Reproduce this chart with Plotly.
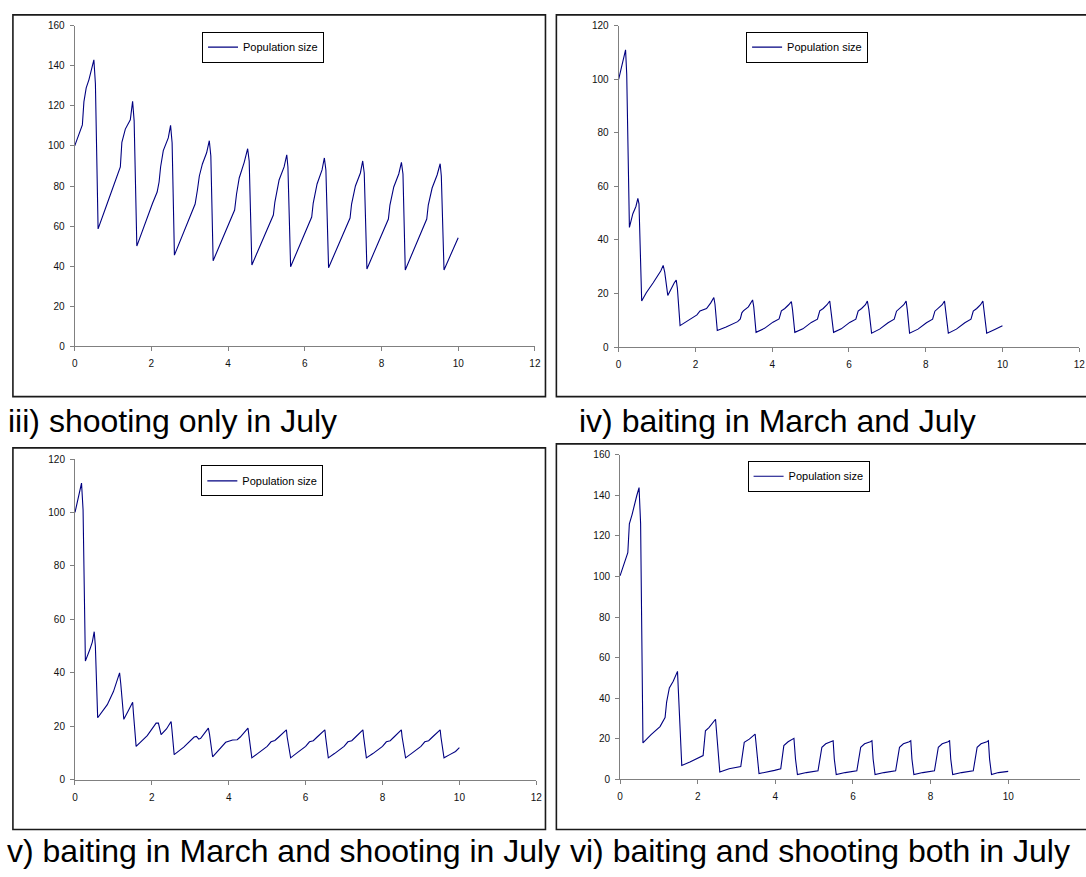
import plotly.graph_objects as go

W, H = 1086, 877

# ---------------- data ----------------
x_iii = [0, 0.08, 0.17, 0.2, 0.24, 0.3, 0.37, 0.44, 0.5, 0.54, 0.61,
         0.85, 1.19, 1.23, 1.32, 1.45, 1.51, 1.55, 1.62,
         2.03, 2.15, 2.2, 2.24, 2.31, 2.44, 2.5, 2.54, 2.6,
         3.14, 3.2, 3.25, 3.33, 3.44, 3.51, 3.55, 3.61,
         4.17, 4.22, 4.29, 4.42, 4.51, 4.55, 4.62,
         5.18, 5.22, 5.33, 5.46, 5.53, 5.56, 5.63,
         6.18, 6.22, 6.32, 6.45, 6.51, 6.55, 6.62,
         7.18, 7.22, 7.32, 7.45, 7.51, 7.55, 7.62,
         8.18, 8.22, 8.32, 8.45, 8.52, 8.56, 8.62,
         9.18, 9.22, 9.32, 9.45, 9.53, 9.56, 9.63,
         10.0]
y_iii = [100, 104, 109, 110.5, 122, 129, 133, 139, 143, 131, 58.6,
         71.4, 89.5, 101.8, 108.4, 113, 122.3, 112.5, 50,
         71.4, 77, 82, 89.5, 97.7, 104, 110.3, 101.6, 45.5,
         71, 78, 85, 91, 96.6, 102.6, 95, 42.7,
         68, 76, 84, 91.8, 98.6, 92.4, 40.6,
         65.5, 72, 83, 89.5, 95.6, 89.5, 39.7,
         64.5, 71.5, 81, 88, 94, 88, 39.2,
         64, 71, 80, 86.5, 92.5, 86.5, 38.6,
         63.5, 70.5, 79.5, 86, 91.8, 86, 38.1,
         63.5, 70.5, 79, 85.5, 91.1, 85, 38.1,
         54.2]

x_iv = [0, 0.08, 0.18, 0.21, 0.28, 0.37, 0.45, 0.5, 0.53, 0.6,
        0.72, 0.9, 1.1, 1.16, 1.2, 1.28, 1.35, 1.45, 1.5, 1.53, 1.6,
        2.04, 2.12, 2.22, 2.29, 2.4, 2.48, 2.51, 2.57,
        2.8, 3.1, 3.17, 3.21, 3.25, 3.38, 3.49, 3.52, 3.58,
        3.8, 4.02, 4.18, 4.24, 4.33, 4.43, 4.5, 4.53, 4.59,
        4.8, 5.02, 5.18, 5.24, 5.33, 5.43, 5.5, 5.53, 5.6,
        5.8, 6.02, 6.18, 6.24, 6.33, 6.43, 6.48, 6.52, 6.59,
        6.8, 7.02, 7.18, 7.24, 7.33, 7.43, 7.49, 7.52, 7.58,
        7.8, 8.02, 8.18, 8.24, 8.33, 8.43, 8.49, 8.52, 8.59,
        8.8, 9.02, 9.18, 9.24, 9.33, 9.43, 9.49, 9.52, 9.59,
        9.8, 10.0]
y_iv = [100, 105, 111, 102, 44.7, 49.8, 52.5, 55.5, 53.5, 17.2,
        20.3, 24, 28.5, 30.5, 28, 19.3, 21.5, 24, 25, 22, 8,
        12, 13.5, 14.2, 14.4, 16.5, 18.5, 16, 6.2,
        7.5, 9.5, 10.5, 12.8, 13.5, 15, 17.6, 15, 5.5,
        7, 9.3, 10.5, 13.5, 14.4, 15.8, 17.0, 14, 5.5,
        6.8, 9.2, 10.4, 13.5, 14.4, 15.8, 17.2, 14, 5.5,
        6.8, 9.2, 10.4, 13.4, 14.4, 15.8, 17.2, 14, 5.2,
        6.7, 9.1, 10.4, 13.4, 14.4, 15.8, 17.2, 14, 5.2,
        6.7, 9.1, 10.4, 13.4, 14.4, 15.8, 17.2, 14, 5.2,
        6.7, 9.1, 10.4, 13.4, 14.4, 15.8, 17.2, 14, 5.2,
        6.6, 8.0]

x_v = [0, 0.08, 0.17, 0.21, 0.27, 0.39, 0.45, 0.5, 0.53, 0.59,
       0.84, 1.0, 1.16, 1.19, 1.27, 1.38, 1.5, 1.52, 1.59,
       1.88, 2.11, 2.17, 2.24, 2.38, 2.5, 2.52, 2.58,
       2.83, 3.1, 3.16, 3.22, 3.27, 3.47, 3.5, 3.58,
       3.92, 4.1, 4.22, 4.3, 4.5, 4.52, 4.6,
       4.75, 5.0, 5.1, 5.2, 5.3, 5.5, 5.52, 5.61,
       5.75, 6.0, 6.1, 6.2, 6.3, 6.5, 6.52, 6.59,
       6.75, 7.0, 7.1, 7.2, 7.3, 7.49, 7.51, 7.58,
       7.75, 8.0, 8.1, 8.2, 8.3, 8.49, 8.51, 8.6,
       8.75, 9.0, 9.1, 9.2, 9.3, 9.5, 9.52, 9.6,
       9.75, 9.9, 10.0]
y_v = [100, 105, 111, 101, 44.4, 48.9, 51.5, 55.4, 50, 23.2,
       28.1, 33, 40, 36, 22.6, 25.6, 29, 25, 12.5,
       16.5, 21.2, 21.2, 16.9, 19, 21.8, 19, 9.4,
       12.2, 16, 16.2, 15.2, 15.5, 19.3, 17, 8.6,
       14, 14.9, 15, 16, 19.3, 17, 8.2,
       9.8, 12.5, 14.2, 14.7, 16, 18.7, 16, 8.2,
       9.8, 12.5, 14.2, 14.6, 16, 18.7, 16, 8.2,
       9.8, 12.5, 14.2, 14.6, 16, 18.7, 16, 8.2,
       9.8, 12.5, 14.2, 14.6, 16, 18.7, 16, 8.2,
       9.8, 12.5, 14.2, 14.6, 16, 18.7, 16, 8.2,
       9.4, 10.6, 12.0]

x_vi = [0, 0.1, 0.2, 0.24, 0.31, 0.43, 0.49, 0.53, 0.59,
        0.8, 1.03, 1.16, 1.2, 1.27, 1.37, 1.48, 1.53, 1.59,
        1.8, 1.98, 2.14, 2.2, 2.29, 2.46, 2.5, 2.57,
        2.81, 3.11, 3.2, 3.33, 3.48, 3.53, 3.58,
        3.98, 4.14, 4.22, 4.33, 4.48, 4.52, 4.57,
        4.8, 5.1, 5.2, 5.3, 5.45, 5.49, 5.52, 5.57,
        5.8, 6.1, 6.2, 6.3, 6.45, 6.49, 6.52, 6.57,
        6.8, 7.1, 7.2, 7.3, 7.45, 7.49, 7.52, 7.57,
        7.8, 8.1, 8.2, 8.3, 8.45, 8.49, 8.52, 8.57,
        8.8, 9.1, 9.2, 9.3, 9.45, 9.49, 9.52, 9.57,
        9.75, 10.0]
y_vi = [100.3, 106, 111.7, 126, 130.5, 139.8, 143.8, 126, 17.9,
        22, 26, 30.4, 38, 45, 48.3, 53.2, 34.5, 6.8,
        8.5, 10.1, 11.7, 23.9, 25.5, 29.6, 18.5, 3.6,
        5.2, 6.3, 18.2, 19.8, 22.3, 13.3, 2.8,
        4.4, 5.2, 16.6, 18.5, 20.2, 10, 2.3,
        3.3, 4.2, 15.8, 17.5, 18.5, 19, 10, 2.3,
        3.3, 4.2, 15.8, 17.5, 18.5, 19, 10, 2.3,
        3.3, 4.2, 15.8, 17.5, 18.5, 19, 10, 2.3,
        3.3, 4.2, 15.8, 17.5, 18.5, 19, 10, 2.3,
        3.3, 4.2, 15.8, 17.5, 18.5, 19, 10, 2.3,
        3.3, 3.9]

captions = ["iii) shooting only in July", "iv) baiting in March and July",
            "v) baiting in March and shooting in July",
            "vi) baiting and shooting both in July"]
series_name = "Population size"
y_max = [160, 120, 120, 160]

# ---------------- layout helpers (pixel -> paper) ----------------
def px(x):
    return x / W

def py(y):
    return 1 - y / H

FONT = "Liberation Sans, Arial, Helvetica, sans-serif"
LINE = "#000080"

# pixel geometry of each panel: (x0px, x12px or scale, y0px, ytop px)
panels = [
    dict(xl=72.3, unit=38.67, yb=345.0, yt=20.0),
    dict(xl=620.8, unit=38.7, yb=345.8, yt=20.0),
    dict(xl=72.6, unit=38.76, yb=784.5, yt=459.3),
    dict(xl=622.2, unit=39.14, yb=784.0, yt=455.0),
]
legend_pos = [(200.7, 26.0), (749.3, 26.0), (200.0, 465.7), (750.8, 461.0)]
frames = [(10, 9, 547, 396), (558, 9, 1100, 396), (10, 448, 547, 835), (558, 444, 1100, 835)]
caption_pos = [(3, 421), (579, 421), (2, 857), (570, 857)]

xs = [x_iii, x_iv, x_v, x_vi]
ys = [y_iii, y_iv, y_v, y_vi]

fig = go.Figure()
layout = dict(width=W, height=H, margin=dict(l=0, r=0, t=0, b=0),
              paper_bgcolor="white", plot_bgcolor="white",
              font=dict(family=FONT, color="black"), shapes=[], annotations=[])

for i in range(4):
    p = panels[i]
    sfx = "" if i == 0 else str(i + 1)
    x_right_px = min(p["xl"] + 12 * p["unit"], W)
    xmax = (x_right_px - p["xl"]) / p["unit"]
    lg = "legend" if i == 0 else "legend" + str(i + 1)
    fig.add_trace(go.Scatter(x=xs[i], y=ys[i], mode="lines", name=series_name,
                             line=dict(color=LINE, width=1.1),
                             xaxis="x" + sfx, yaxis="y" + sfx, legend=lg,
                             showlegend=True))
    axcommon = dict(showline=True, linecolor="#808080", linewidth=1,
                    ticks="outside", ticklen=4, tickcolor="#808080", tickwidth=1,
                    showgrid=False, zeroline=False,
                    tickfont=dict(size=10, family=FONT, color="#111"),
                    fixedrange=True)
    layout["xaxis" + sfx] = dict(axcommon, domain=[px(p["xl"]), px(x_right_px)],
                                 range=[0, xmax], dtick=2, tick0=0,
                                 anchor="y" + sfx, ticklabelstandoff=4)
    layout["yaxis" + sfx] = dict(axcommon, domain=[py(p["yb"]), py(p["yt"])],
                                 range=[0, y_max[i]], dtick=20, tick0=0,
                                 anchor="x" + sfx, ticklabelstandoff=3)
    lx, ly = legend_pos[i]
    layout[lg] = dict(x=px(lx), y=py(ly), xanchor="left", yanchor="top",
                      bgcolor="white", bordercolor="black", borderwidth=1,
                      font=dict(size=11, family=FONT, color="black"),
                      itemwidth=30, tracegroupgap=0)
    fx0, fy0, fx1, fy1 = frames[i]
    layout["shapes"].append(dict(type="rect", xref="paper", yref="paper",
                                 x0=px(fx0), x1=px(fx1), y0=py(fy1), y1=py(fy0),
                                 line=dict(color="#1a1a1a", width=1.6),
                                 fillcolor="rgba(0,0,0,0)", layer="below"))
    cx, cy = caption_pos[i]
    layout["annotations"].append(dict(text=captions[i], xref="paper", yref="paper",
                                      x=px(cx), y=py(cy), xanchor="left", yanchor="middle",
                                      showarrow=False,
                                      font=dict(size=32, family=FONT, color="black")))

fig.update_layout(**layout)
fig.write_html("out.html")
